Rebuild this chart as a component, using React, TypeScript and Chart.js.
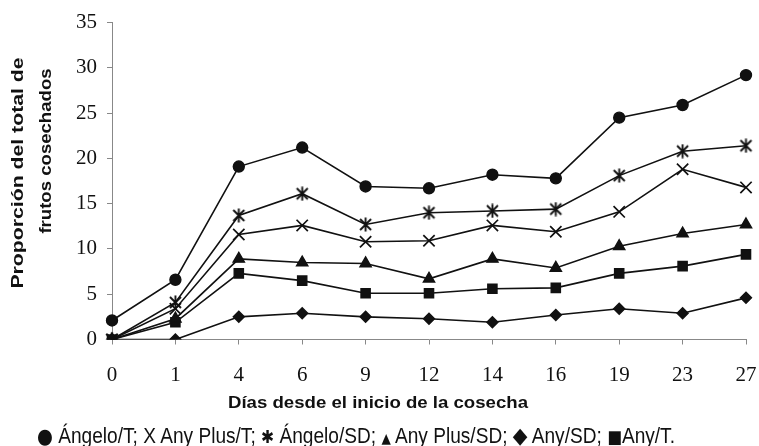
import React, { useEffect, useLayoutEffect, useRef } from "react";
import { Chart, registerables } from "chart.js";

Chart.register(...registerables);

const days = ["0", "1", "4", "6", "9", "12", "14", "16", "19", "23", "27"];
const angeloT = [2.1, 6.6, 19.1, 21.2, 16.9, 16.7, 18.2, 17.8, 24.5, 25.9, 29.2];
const anyPlusT = [0, 3.4, 11.6, 12.6, 10.8, 10.9, 12.6, 11.9, 14.1, 18.8, 16.8];
const angeloSD = [0, 4.1, 13.7, 16.1, 12.7, 14.0, 14.2, 14.4, 18.1, 20.8, 21.4];
const anyPlusSD = [0, 2.3, 8.9, 8.5, 8.4, 6.7, 8.9, 7.9, 10.3, 11.7, 12.7];
const anySD = [0, 0, 2.5, 2.9, 2.5, 2.3, 1.9, 2.7, 3.4, 2.9, 4.6];
const anyT = [0, 1.9, 7.3, 6.5, 5.1, 5.1, 5.6, 5.7, 7.3, 8.1, 9.4];
const yTicks = [0, 5, 10, 15, 20, 25, 30, 35];

const yTitleLines = ["Proporción del total de", "frutos cosechados"];
const xTitle = "Días desde el inicio de la cosecha";
const legendSymbols = ["●", "X", "✱", "▲", "◆", "■"];
const legendNames = ["Ángelo/T", "Any Plus/T", "Ángelo/SD", "Any Plus/SD", "Any/SD", "Any/T"];
const legendSymbolSizes = [21, 22, 18, 14, 22, 18];

const INK = "#111";

function makeAsterisk(): HTMLCanvasElement {
  const c = document.createElement("canvas");
  c.width = 15;
  c.height = 15;
  const g = c.getContext("2d")!;
  g.strokeStyle = INK;
  g.lineWidth = 1.9;
  g.beginPath();
  g.moveTo(2, 2);
  g.lineTo(13, 13);
  g.moveTo(13, 2);
  g.lineTo(2, 13);
  g.moveTo(7.5, 0.5);
  g.lineTo(7.5, 14.5);
  g.stroke();
  return c;
}

type Label = {
  key: string;
  cx: number;
  cy: number;
  width: number;
  rotate: number;
  font: string;
  size: number;
};

const labels: Label[] = [
  { key: "y1", cx: 16.5, cy: 172.5, width: 231, rotate: -90, font: "bold 17px 'Liberation Sans', Arial, sans-serif", size: 17 },
  { key: "y2", cx: 45, cy: 150.5, width: 165, rotate: -90, font: "bold 17px 'Liberation Sans', Arial, sans-serif", size: 17 },
  { key: "x", cx: 378, cy: 401.5, width: 300, rotate: 0, font: "bold 17px 'Liberation Sans', Arial, sans-serif", size: 17 },
  { key: "legend", cx: 356, cy: 436, width: 638, rotate: 0, font: "22px 'Liberation Sans', Arial, sans-serif", size: 22 },
];

function renderContent(key: string) {
  if (key === "y1") return yTitleLines[0];
  if (key === "y2") return yTitleLines[1];
  if (key === "x") return xTitle;
  return legendNames.map((name, i) => (
    <React.Fragment key={i}>
      <span
        style={{
          fontSize: legendSymbolSizes[i],
          lineHeight: 0,
          fontFamily: i === 1 ? "'Liberation Sans', Arial, sans-serif" : "'DejaVu Sans', sans-serif",
        }}
      >
        {legendSymbols[i]}
      </span>
      {i === legendNames.length - 1 ? "" : " "}
      {name}
      {i === legendNames.length - 1 ? "." : "; "}
    </React.Fragment>
  ));
}

export default function App() {
  const ref = useRef<HTMLCanvasElement>(null);
  const spans = useRef<(HTMLDivElement | null)[]>([]);

  useLayoutEffect(() => {
    document.body.style.margin = "0";
    labels.forEach((l, i) => {
      const el = spans.current[i];
      if (!el) return;
      const w = el.offsetWidth || 1;
      const s = l.width / w;
      el.style.transform = `translate(-50%, -50%) rotate(${l.rotate}deg) scaleX(${s})`;
    });
  }, []);

  useEffect(() => {
    const asterisk = makeAsterisk();
    const base = {
      borderColor: INK,
      backgroundColor: INK,
      pointBackgroundColor: INK,
      pointBorderColor: INK,
      borderWidth: 1.6,
      pointBorderWidth: 1.4,
      tension: 0,
      fill: false,
    };
    const chart = new Chart(ref.current!, {
      type: "line",
      data: {
        labels: days,
        datasets: [
          { ...base, label: "Ángelo/T", data: angeloT, pointStyle: "circle", pointRadius: 5.5 },
          { ...base, label: "Any Plus/T", data: anyPlusT, pointStyle: "crossRot", pointRadius: 8, pointBorderWidth: 1.7 },
          { ...base, label: "Ángelo/SD", data: angeloSD, pointStyle: asterisk as any, pointRadius: 7 },
          { ...base, label: "Any Plus/SD", data: anyPlusSD, pointStyle: "triangle", pointRadius: 6.5 },
          { ...base, label: "Any/SD", data: anySD, pointStyle: "rectRot", pointRadius: 5.5 },
          { ...base, label: "Any/T", data: anyT, pointStyle: "rect", pointRadius: 6.5 },
        ],
      },
      options: {
        animation: false,
        responsive: false,
        maintainAspectRatio: false,
        events: [],
        layout: { padding: { left: 0, top: 21, right: 13, bottom: 0 } },
        plugins: { legend: { display: false }, tooltip: { enabled: false } },
        scales: {
          x: {
            type: "category",
            offset: false,
            grid: { display: true, drawOnChartArea: false, drawTicks: true, tickLength: 5, color: "#888" },
            border: { display: true, color: "#888", width: 1 },
            ticks: {
              color: INK,
              padding: 18,
              maxRotation: 0,
              autoSkip: false,
              font: { family: "'Liberation Serif', 'Times New Roman', serif", size: 21 },
            },
            afterFit: (s: any) => {
              s.height = 106.5;
              s.paddingLeft = 0;
              s.paddingRight = 0;
            },
          },
          y: {
            min: 0,
            max: 35,
            afterBuildTicks: (s: any) => {
              s.ticks = yTicks.map((v) => ({ value: v }));
            },
            grid: { display: true, drawOnChartArea: false, drawTicks: true, tickLength: 5, color: "#888" },
            border: { display: true, color: "#888", width: 1 },
            ticks: {
              color: INK,
              padding: 10,
              font: { family: "'Liberation Serif', 'Times New Roman', serif", size: 21 },
            },
            afterFit: (s: any) => {
              s.width = 112;
            },
          },
        },
      },
    });
    return () => chart.destroy();
  }, []);

  return (
    <div style={{ position: "relative", width: 759, height: 446, background: "#fff", overflow: "hidden" }}>
      <canvas ref={ref} width={759} height={446} style={{ display: "block" }} />
      {labels.map((l, i) => (
        <div
          key={l.key}
          ref={(el) => {
            spans.current[i] = el;
          }}
          style={{
            position: "absolute",
            left: l.cx,
            top: l.cy,
            font: l.font,
            lineHeight: `${l.size}px`,
            color: INK,
            whiteSpace: "nowrap",
            transform: `translate(-50%, -50%) rotate(${l.rotate}deg)`,
          }}
        >
          {renderContent(l.key)}
        </div>
      ))}
    </div>
  );
}
